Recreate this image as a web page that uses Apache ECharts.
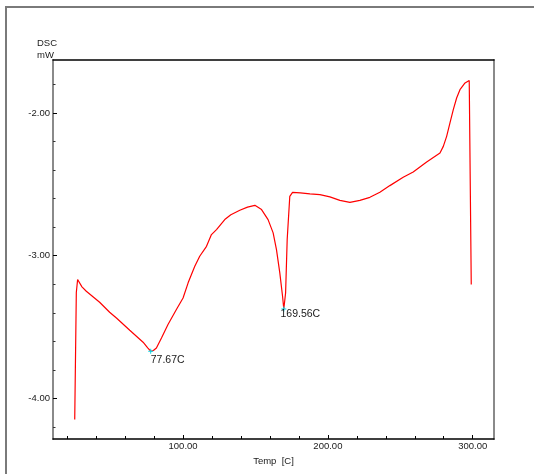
<!DOCTYPE html>
<html>
<head>
<meta charset="utf-8">
<script src="https://cdn.jsdelivr.net/npm/echarts@6/dist/echarts.min.js"></script>
<style>
  html, body { margin: 0; padding: 0; background: #fff; }
  #dsc { width: 534px; height: 474px; }
</style>
</head>
<body>
<div id="dsc"></div>
<script>
// DSC curve: temperature [C] and heat flow [mW]
const temps = [25.2, 26.3, 27.2, 28.1, 30.2, 33.2, 42.4, 49.3, 54.0, 63.2, 72.4, 75.6, 77.67, 79.5, 81.6,
  85.1, 89.6, 95.4, 100.0, 103.5, 108.1, 111.5, 116.2, 119.6, 123.1, 128.8, 133.0, 139.2, 144.5, 149.6,
  154.2, 158.7, 162.2, 164.5, 166.8, 168.7, 169.56, 170.8, 171.9, 173.7, 175.6, 181.0, 187.6, 194.5, 201.4,
  208.3, 215.2, 222.1, 229.0, 235.9, 242.8, 252.0, 258.9, 268.2, 277.4, 279.7, 282.0, 284.3, 286.6, 288.9,
  291.2, 294.7, 297.6, 298.8, 299.0]
const dscValues = [-4.148, -3.258, -3.167, -3.160, -3.218, -3.249, -3.326, -3.396, -3.436, -3.522, -3.606, -3.645, -3.669, -3.664, -3.646,
  -3.576, -3.482, -3.377, -3.296, -3.190, -3.074, -3.004, -2.934, -2.852, -2.817, -2.747, -2.713, -2.682, -2.660, -2.647,
  -2.677, -2.747, -2.840, -2.957, -3.120, -3.284, -3.373, -3.261, -2.887, -2.584, -2.556, -2.560, -2.567, -2.572, -2.588,
  -2.612, -2.626, -2.612, -2.591, -2.556, -2.509, -2.451, -2.413, -2.343, -2.280, -2.234, -2.164, -2.070, -1.977, -1.895,
  -1.837, -1.790, -1.772, -1.762, -3.202]

// peak minima marked on the curve
const peakTemps = [77.67, 169.56]
const peakValues = [-3.669, -3.373]
const peakLabels = ['77.67C', '169.56C']

// axis ticks
const xLabelTicks = [100, 200, 300]
const xMinorTicks = [20, 40, 60, 80, 120, 140, 160, 180, 220, 240, 260, 280, 300]
const yLabelTicks = [-4, -3, -2]
const yMinorTicks = [-4.2, -3.8, -3.6, -3.4, -3.2, -2.8, -2.6, -2.4, -2.2, -1.8]

const FONT = "'Liberation Sans', Arial, sans-serif"
const X_MIN = 10.2, X_MAX = 314.7
const Y_MIN = -4.284, Y_MAX = -1.629

let chart = echarts.init(document.getElementById('dsc'))

// label offsets for each peak text, relative to the marker box
const peakLabelPos = [[2.5, 6], [-0.8, 2.5]]

let option = {
    animation: false,
    title: {
        text: 'DSC\nmW',
        left: 37,
        top: 37,
        padding: 0,
        textStyle: { fontSize: 9.5, fontWeight: 'normal', lineHeight: 12, color: '#1a1a1a', fontFamily: FONT }
    },
    graphic: [{
        type: 'rect',
        shape: { x: 6, y: 7, width: 700, height: 700 },
        style: { fill: 'none', stroke: '#7a7a7a', lineWidth: 2 },
        z: -1
    }],
    grid: { left: 53, top: 60, right: 40, bottom: 35 },
    xAxis: [
        {
            type: 'value', position: 'bottom', min: X_MIN, max: X_MAX,
            name: 'Temp  [C]', nameLocation: 'middle', nameGap: 14,
            nameTextStyle: { fontSize: 9.5, color: '#1a1a1a', fontFamily: FONT },
            axisLine: { onZero: false, lineStyle: { color: '#000', width: 1.5 } },
            axisTick: { inside: true, length: 4, customValues: xLabelTicks, lineStyle: { color: '#000' } },
            axisLabel: {
                customValues: xLabelTicks, margin: 2, fontSize: 9.5, color: '#1a1a1a', fontFamily: FONT,
                formatter: v => v.toFixed(2)
            },
            splitLine: { show: false }
        },
        {
            type: 'value', position: 'bottom', min: X_MIN, max: X_MAX,
            axisLine: { show: false },
            axisTick: { inside: true, length: 3, customValues: xMinorTicks, lineStyle: { color: '#000' } },
            axisLabel: { show: false },
            splitLine: { show: false }
        },
        {
            type: 'value', position: 'top', min: X_MIN, max: X_MAX,
            axisLine: { onZero: false, lineStyle: { color: '#000', width: 1.5 } },
            axisTick: { show: false },
            axisLabel: { show: false },
            splitLine: { show: false }
        }
    ],
    yAxis: [
        {
            type: 'value', position: 'left', min: Y_MIN, max: Y_MAX,
            axisLine: { onZero: false, lineStyle: { color: '#8a8a8a', width: 2 } },
            axisTick: { inside: true, length: 4, customValues: yLabelTicks, lineStyle: { color: '#000' } },
            axisLabel: {
                customValues: yLabelTicks, margin: 3, fontSize: 9.5, color: '#1a1a1a', fontFamily: FONT,
                formatter: v => v.toFixed(2)
            },
            splitLine: { show: false }
        },
        {
            type: 'value', position: 'left', min: Y_MIN, max: Y_MAX,
            axisLine: { show: false },
            axisTick: { inside: true, length: 2.5, customValues: yMinorTicks, lineStyle: { color: '#333' } },
            axisLabel: { show: false },
            splitLine: { show: false }
        },
        {
            type: 'value', position: 'right', min: Y_MIN, max: Y_MAX,
            axisLine: { onZero: false, lineStyle: { color: '#8a8a8a', width: 2 } },
            axisTick: { show: false },
            axisLabel: { show: false },
            splitLine: { show: false }
        }
    ],
    series: [{
        type: 'line',
        xAxisIndex: 0,
        yAxisIndex: 0,
        data: temps.map((t, i) => [t, dscValues[i]]),
        showSymbol: false,
        lineStyle: { color: '#ff0000', width: 1.2 },
        markPoint: {
            symbol: 'path://M2,0H3V2H5V3H3V5H2V3H0V2H2Z',
            symbolSize: 5,
            itemStyle: { color: '#00d8e8' },
            data: peakTemps.map((t, i) => ({
                coord: [t, peakValues[i]],
                name: peakLabels[i],
                label: {
                    show: true,
                    position: peakLabelPos[i],
                    align: 'left',
                    verticalAlign: 'top',
                    fontSize: 10.5,
                    color: '#1a1a1a',
                    fontFamily: FONT,
                    formatter: p => p.name
                }
            }))
        }
    }]
}

chart.setOption(option)
</script>
</body>
</html>
